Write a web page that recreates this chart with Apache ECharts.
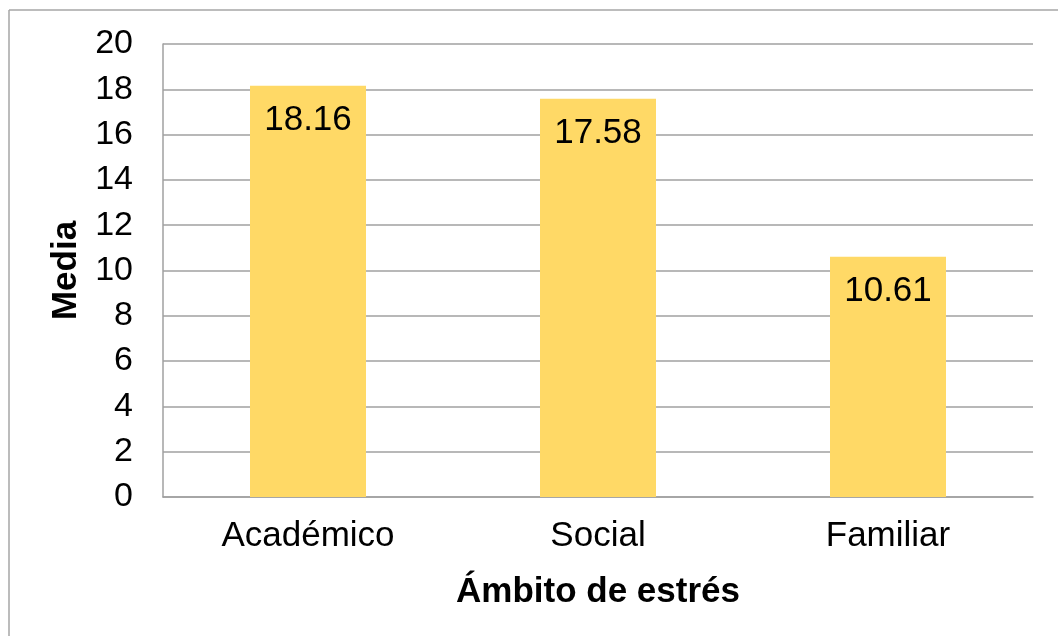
<!DOCTYPE html>
<html>
<head>
<meta charset="utf-8">
<script src="https://cdn.jsdelivr.net/npm/echarts@6/dist/echarts.min.js"></script>
<style>
html,body{margin:0;padding:0;background:#fff;}
#chart{width:1058px;height:636px;}
</style>
</head>
<body>
<div id="chart"></div>
<script>
const categories = ['Académico', 'Social', 'Familiar'];
const media = [18.16, 17.58, 10.61];
const yTicks = [0, 2, 4, 6, 8, 10, 12, 14, 16, 18, 20];
const xTitle = 'Ámbito de estrés';
const yTitle = 'Media';

const FONT = '"Liberation Sans", Arial, sans-serif';
const chart = echarts.init(document.getElementById('chart'));
chart.setOption({
  backgroundColor: '#ffffff',
  animation: false,
  graphic: [
    { type: 'line', shape: { x1: 9, y1: 10, x2: 1058, y2: 10 }, style: { stroke: '#a6a6a6', lineWidth: 1.5 } },
    { type: 'line', shape: { x1: 9, y1: 10, x2: 9, y2: 636 }, style: { stroke: '#a6a6a6', lineWidth: 1.5 } }
  ],
  grid: { left: 163, right: 25, top: 44, bottom: 139, containLabel: false },
  xAxis: {
    type: 'category',
    data: categories,
    name: xTitle,
    nameLocation: 'middle',
    nameGap: 78,
    nameTextStyle: { fontFamily: FONT, fontSize: 35, fontWeight: 'bold', color: '#000' },
    axisLine: { lineStyle: { color: '#a0a0a0', width: 1.5 } },
    axisTick: { show: false },
    axisLabel: { fontFamily: FONT, fontSize: 35, color: '#000', margin: 22 }
  },
  yAxis: {
    type: 'value',
    min: yTicks[0],
    max: yTicks[yTicks.length - 1],
    interval: yTicks[1] - yTicks[0],
    name: yTitle,
    nameLocation: 'middle',
    nameRotate: 90,
    nameGap: 79,
    nameTextStyle: { fontFamily: FONT, fontSize: 35, fontWeight: 'bold', color: '#000' },
    axisLine: { show: true, lineStyle: { color: '#a0a0a0', width: 1.5 } },
    axisTick: { show: false },
    splitLine: { show: true, lineStyle: { color: '#a0a0a0', width: 1.5 } },
    axisLabel: { fontFamily: FONT, fontSize: 34, color: '#000', margin: 30 }
  },
  series: [{
    type: 'bar',
    data: media,
    barWidth: '40%',
    itemStyle: { color: '#FFD966' },
    label: {
      show: true,
      position: 'insideTop',
      distance: 17,
      fontFamily: FONT,
      fontSize: 35,
      color: '#000',
      formatter: p => p.value.toFixed(2)
    }
  }]
});
</script>
</body>
</html>
